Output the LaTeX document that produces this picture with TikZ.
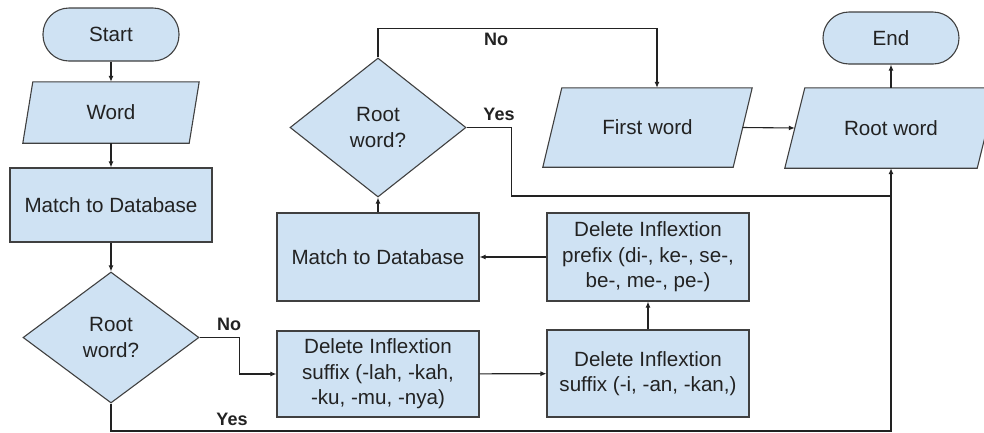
\documentclass[tikz,border=0pt]{standalone}
\usepackage{fontspec}
\setmainfont{Liberation Sans}
\usetikzlibrary{shapes.geometric,arrows.meta,calc,backgrounds}
\definecolor{boxfill}{HTML}{CFE2F3}
\definecolor{boxline}{HTML}{404040}
\definecolor{txt}{HTML}{222222}
\begin{document}
\begin{tikzpicture}[x=1pt,y=-1pt,
  nodetext/.style={text=txt,font=\fontsize{20.6}{25.5}\selectfont,align=center,inner sep=0pt},
  base/.style={nodetext,fill=boxfill,draw=boxline,line width=1.1pt},
  procbox/.style={base,rectangle,minimum width=202pt},
  termbox/.style={base,rectangle,rounded corners=26pt,minimum width=136pt,minimum height=53pt},
  decbox/.style={base,diamond,minimum width=176pt},
  iobox/.style={nodetext},
  paraframe/.style={fill=boxfill,draw=boxline,line width=1.1pt},
  conn/.style={draw=txt,line width=1.1pt,-{Latex[length=6pt,width=5pt]}},
  plainline/.style={draw=txt,line width=1.1pt},
  lbl/.style={text=txt,font=\fontsize{18}{20}\selectfont\bfseries,inner sep=0pt}]
\useasboundingbox (0,0) rectangle (984,432);

% nodes
\node[termbox] (start) at (111,34.5) {Start};
\node[iobox,minimum width=176pt,minimum height=61pt] (word) at (111,112.5) {Word};
\node[procbox,minimum height=74pt] (match1) at (111,205) {Match to Database};
\node[decbox,minimum height=131pt] (d1) at (111,337.5) {Root\\word?};
\node[procbox,minimum height=86pt] (suf1) at (378,374) {Delete Inflextion\\suffix (-lah, -kah,\\-ku, -mu, -nya)};
\node[procbox,minimum height=87pt] (suf2) at (648,373.5) {Delete Inflextion\\suffix (-i, -an, -kan,)};
\node[procbox,minimum height=88pt] (prefix) at (648,257) {Delete Inflextion\\prefix (di-, ke-, se-,\\be-, me-, pe-)};
\node[procbox,minimum height=88pt] (match2) at (378,257) {Match to Database};
\node[decbox,minimum height=139pt] (d2) at (378,127.5) {Root\\word?};
\node[iobox,minimum width=209pt,minimum height=79pt] (first) at (647.5,127.5) {First word};
\node[iobox,minimum width=212pt,minimum height=80pt] (rootw) at (891,128) {Root word};
\node[termbox,minimum height=52pt] (endn) at (891,38) {End};

% parallelogram outlines behind the io nodes
\begin{scope}[on background layer]
\foreach \n/\s in {word/10,first/19,rootw/20}{
  \draw[paraframe] (\n.south west) -- ($(\n.north west)+(\s,0)$) -- (\n.north east) -- ($(\n.south east)-(\s,0)$) -- cycle;
}
\end{scope}

% connector helper points
\coordinate (yb) at (891,431);
\coordinate (yj) at (891,196);

% connectors
\draw[conn] (start) -- (word);
\draw[conn] (word) -- (match1);
\draw[conn] (match1) -- (d1);
\draw[conn] (d1.east) -- ++(40,0) |- (suf1.west);
\draw[conn] (d1.south) |- (yb) -- (yb |- rootw.south);
\draw[conn] (suf1) -- (suf2);
\draw[conn] (suf2) -- (prefix);
\draw[conn] (prefix) -- (match2);
\draw[conn] (match2) -- (d2);
\draw[conn] (d2.north) -- ++(0,-29) -| ($(first.north)+(9.5,0)$);
\draw[plainline] (d2.east) -- ++(45,0) |- (yj);
\draw[conn] ($(first.east)+(-9.5,0)$) -- ($(rootw.west)+(10,0)$);
\draw[conn] (rootw) -- (endn);

% labels
\node[lbl] (l1) at (229,324) {No};
\node[lbl] (l2) at (232,419) {Yes};
\node[lbl] (l3) at (496,39) {No};
\node[lbl] (l4) at (499,114) {Yes};
\end{tikzpicture}
\end{document}
